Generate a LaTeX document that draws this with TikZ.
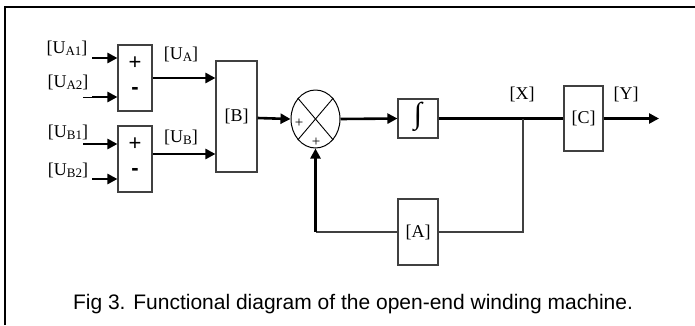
\documentclass[tikz,border=0pt]{standalone}
\usepackage{fontspec}
\setmainfont{Liberation Serif}
\newfontfamily\capfont{Liberation Sans}
\usetikzlibrary{arrows.meta,shapes.geometric,calc}
\newcommand{\Usub}[2]{[U\raisebox{-0.25ex}{\fontsize{13}{13}\selectfont #1}#2]}
\begin{document}
\begin{tikzpicture}[x=1pt,y=-1pt,
  blk/.style={draw=black!75,line width=1.1pt,minimum width=#1,inner sep=0pt,font=\fontsize{18}{18}\selectfont},
  lbl/.style={inner sep=0pt,font=\fontsize{18}{18}\selectfont},
  sgn/.style={inner sep=0pt,font=\capfont\fontsize{22}{22}\selectfont},
  sig/.style={line width=2.6pt,-{Triangle[length=10pt,width=10pt]}},
  fb/.style={draw=black!75,line width=1.3pt}]
\useasboundingbox (0,0) rectangle (695,325);
\draw[line width=1.8pt] (5,325) -- (5,7) -- (695,7);
% sum blocks
\node[blk=34pt,minimum height=66pt] (s1) at (135,78) {};
\node[blk=34pt,minimum height=66pt] (s2) at (135,159) {};
\node[sgn] (p1) at (135,63) {+};
\node[sgn] (m1) at (135,91) {\textbf{-}};
\node[sgn] (p2) at (135,144) {+};
\node[sgn] (m2) at (135,172) {\textbf{-}};
% input labels
\node[lbl] (la1) at (67,48) {\Usub{A1}{}};
\node[lbl] (la2) at (68,82) {\Usub{A2}{}};
\node[lbl] (lb1) at (68,132) {\Usub{B1}{}};
\node[lbl] (lb2) at (68,170) {\Usub{B2}{}};
% input arrows
\coordinate (i1) at (92,58);
\coordinate (i2t) at (83,97);
\coordinate (i2) at (92,97);
\coordinate (i3) at (83,144);
\coordinate (i4) at (92,179);
\draw[sig] (i1) -- (i1 -| s1.west);
\draw[line width=1pt] (i2t) -- (i2);
\draw[sig] (i2) -- (i2 -| s1.west);
\draw[sig] (i3) -- (i3 -| s2.west);
\draw[sig] (i4) -- (i4 -| s2.west);
% B block
\node[blk=41pt,minimum height=111pt] (B) at (236.5,116.5) {[B]};
\coordinate (oa) at (s1.east);
\coordinate (ob) at ($(s2.east)+(0,-5)$);
\draw[sig] (oa) -- (oa -| B.west);
\draw[sig] (ob) -- (ob -| B.west);
\node[lbl] (lua) at (181,54) {\Usub{A}{}};
\node[lbl] (lub) at (181,137) {\Usub{B}{}};
% summing junction
\node[draw=black,line width=1pt,ellipse,minimum width=49pt,minimum height=58pt,inner sep=0pt] (sum) at (315.5,119) {};
\draw[line width=0.9pt] (sum.north west) -- (sum.south east);
\draw[line width=0.9pt] (sum.north east) -- (sum.south west);
\node[inner sep=0pt,font=\fontsize{15}{15}\selectfont] (pl) at (299,123) {+};
\node[inner sep=0pt,font=\fontsize{15}{15}\selectfont] (pb) at (316,142) {+};
\draw[sig] (B.east |- 0,118) -- (sum.west);
% integrator
\node[blk=40pt,minimum height=39pt] (I) at (418,118.5) {};
\node[inner sep=0pt,font=\fontsize{30}{30}\selectfont] (intg) at (418,117) {∫};
\draw[sig] (sum.east) -- (I.west);
% C block
\node[blk=39pt,minimum height=65pt] (C) at (583.5,118.5) {[C]};
\coordinate (jx) at (523,118.5);
\draw[line width=2.6pt] (I.east) -- (C.west);
\coordinate (yend) at (659,118.5);
\draw[sig] (C.east) -- (yend);
\node[lbl] (lx) at (522,94) {[X]};
\node[lbl] (ly) at (626,94) {[Y]};
% feedback
\node[blk=40pt,minimum height=66pt] (A) at (418,232) {[A]};
\draw[fb] (jx) |- (A.east);
\coordinate (fc) at (315.5,232);
\draw[fb] (A.west) -- (fc);
\draw[sig] (fc) -- (sum.south);
% caption
\node[anchor=base,inner sep=0pt,font=\capfont\fontsize{21}{21}\selectfont] (cap) at (353,309) {Fig 3. Functional diagram of the open-end winding machine.};
\end{tikzpicture}
\end{document}
